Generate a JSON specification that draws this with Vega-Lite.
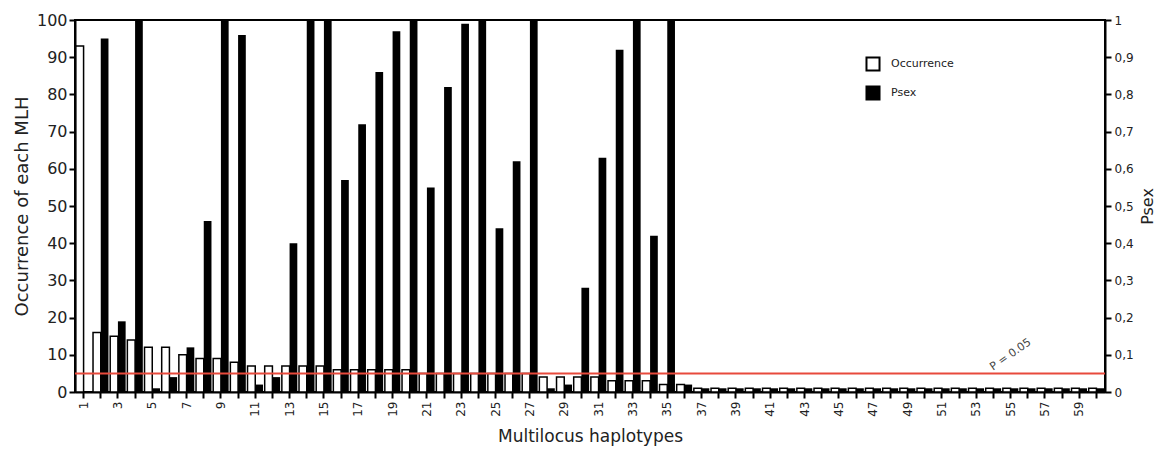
{
  "$schema": "https://vega.github.io/schema/vega-lite/v6.json",
  "width": 1030,
  "height": 372,
  "autosize": {"type": "none"},
  "padding": {"left": 75, "top": 20, "right": 67, "bottom": 69},
  "background": "white",
  "config": {
    "font": "DejaVu Sans",
    "view": {"stroke": "black", "strokeWidth": 2},
    "axis": {
      "domainColor": "black", "domainWidth": 2, "tickColor": "black", "tickWidth": 2, "tickSize": 6,
      "labelColor": "#222", "titleColor": "#222", "titleFontWeight": "normal", "grid": false,
      "labelFont": "DejaVu Sans", "titleFont": "DejaVu Sans"
    },
    "legend": {
      "orient": "none", "legendX": 790, "legendY": 36, "title": null,
      "symbolType": "square", "symbolSize": 170, "symbolStrokeColor": "black", "symbolStrokeWidth": 2,
      "labelFontSize": 11, "labelColor": "#222", "rowPadding": 7, "labelOffset": 10
    }
  },
  "data": {
    "values": [
      {"mlh": 1, "Occurrence": 93, "Psex": 0},
      {"mlh": 2, "Occurrence": 16, "Psex": 0.95},
      {"mlh": 3, "Occurrence": 15, "Psex": 0.19},
      {"mlh": 4, "Occurrence": 14, "Psex": 1.0},
      {"mlh": 5, "Occurrence": 12, "Psex": 0.01},
      {"mlh": 6, "Occurrence": 12, "Psex": 0.04},
      {"mlh": 7, "Occurrence": 10, "Psex": 0.12},
      {"mlh": 8, "Occurrence": 9, "Psex": 0.46},
      {"mlh": 9, "Occurrence": 9, "Psex": 1.0},
      {"mlh": 10, "Occurrence": 8, "Psex": 0.96},
      {"mlh": 11, "Occurrence": 7, "Psex": 0.02},
      {"mlh": 12, "Occurrence": 7, "Psex": 0.04},
      {"mlh": 13, "Occurrence": 7, "Psex": 0.40},
      {"mlh": 14, "Occurrence": 7, "Psex": 1.0},
      {"mlh": 15, "Occurrence": 7, "Psex": 1.0},
      {"mlh": 16, "Occurrence": 6, "Psex": 0.57},
      {"mlh": 17, "Occurrence": 6, "Psex": 0.72},
      {"mlh": 18, "Occurrence": 6, "Psex": 0.86},
      {"mlh": 19, "Occurrence": 6, "Psex": 0.97},
      {"mlh": 20, "Occurrence": 6, "Psex": 1.0},
      {"mlh": 21, "Occurrence": 5, "Psex": 0.55},
      {"mlh": 22, "Occurrence": 5, "Psex": 0.82},
      {"mlh": 23, "Occurrence": 5, "Psex": 0.99},
      {"mlh": 24, "Occurrence": 5, "Psex": 1.0},
      {"mlh": 25, "Occurrence": 5, "Psex": 0.44},
      {"mlh": 26, "Occurrence": 5, "Psex": 0.62},
      {"mlh": 27, "Occurrence": 5, "Psex": 1.0},
      {"mlh": 28, "Occurrence": 4, "Psex": 0.01},
      {"mlh": 29, "Occurrence": 4, "Psex": 0.02},
      {"mlh": 30, "Occurrence": 4, "Psex": 0.28},
      {"mlh": 31, "Occurrence": 4, "Psex": 0.63},
      {"mlh": 32, "Occurrence": 3, "Psex": 0.92},
      {"mlh": 33, "Occurrence": 3, "Psex": 1.0},
      {"mlh": 34, "Occurrence": 3, "Psex": 0.42},
      {"mlh": 35, "Occurrence": 2, "Psex": 1.0},
      {"mlh": 36, "Occurrence": 2, "Psex": 0.02},
      {"mlh": 37, "Occurrence": 1, "Psex": 0.01},
      {"mlh": 38, "Occurrence": 1, "Psex": 0.01},
      {"mlh": 39, "Occurrence": 1, "Psex": 0.01},
      {"mlh": 40, "Occurrence": 1, "Psex": 0.01},
      {"mlh": 41, "Occurrence": 1, "Psex": 0.01},
      {"mlh": 42, "Occurrence": 1, "Psex": 0.01},
      {"mlh": 43, "Occurrence": 1, "Psex": 0.01},
      {"mlh": 44, "Occurrence": 1, "Psex": 0.01},
      {"mlh": 45, "Occurrence": 1, "Psex": 0.01},
      {"mlh": 46, "Occurrence": 1, "Psex": 0.01},
      {"mlh": 47, "Occurrence": 1, "Psex": 0.01},
      {"mlh": 48, "Occurrence": 1, "Psex": 0.01},
      {"mlh": 49, "Occurrence": 1, "Psex": 0.01},
      {"mlh": 50, "Occurrence": 1, "Psex": 0.01},
      {"mlh": 51, "Occurrence": 1, "Psex": 0.01},
      {"mlh": 52, "Occurrence": 1, "Psex": 0.01},
      {"mlh": 53, "Occurrence": 1, "Psex": 0.01},
      {"mlh": 54, "Occurrence": 1, "Psex": 0.01},
      {"mlh": 55, "Occurrence": 1, "Psex": 0.01},
      {"mlh": 56, "Occurrence": 1, "Psex": 0.01},
      {"mlh": 57, "Occurrence": 1, "Psex": 0.01},
      {"mlh": 58, "Occurrence": 1, "Psex": 0.01},
      {"mlh": 59, "Occurrence": 1, "Psex": 0.01},
      {"mlh": 60, "Occurrence": 1, "Psex": 0.01}
    ]
  },
  "layer": [
    {
      "transform": [{"fold": ["Occurrence"], "as": ["series", "value"]}],
      "mark": {"type": "bar", "stroke": "black", "strokeWidth": 1.5},
      "encoding": {
        "x": {
          "field": "mlh", "type": "ordinal",
          "scale": {"paddingInner": 0.1, "paddingOuter": 0.05},
          "axis": {
            "title": "Multilocus haplotypes", "labelAngle": -90,
            "labelExpr": "datum.value % 2 == 1 ? datum.label : ''",
            "labelFontSize": 12, "labelPadding": 3, "titleFontSize": 17, "titlePadding": 12
          }
        },
        "xOffset": {"field": "series", "scale": {"domain": ["Occurrence", "Psex"]}},
        "y": {
          "field": "value", "type": "quantitative",
          "scale": {"domain": [0, 100]},
          "axis": {
            "title": "Occurrence of each MLH", "orient": "left",
            "values": [0, 10, 20, 30, 40, 50, 60, 70, 80, 90, 100],
            "labelFontSize": 16, "labelPadding": 2, "titleFontSize": 18, "titlePadding": 5
          }
        },
        "fill": {
          "field": "series", "type": "nominal",
          "scale": {"domain": ["Occurrence", "Psex"], "range": ["#ffffff", "#000000"]}
        }
      }
    },
    {
      "encoding": {
        "y": {
          "field": "value", "type": "quantitative",
          "scale": {"domain": [0, 1]},
          "axis": {
            "title": "Psex", "orient": "right", "titleAngle": -90, "titleBaseline": "top",
            "values": [0, 0.1, 0.2, 0.3, 0.4, 0.5, 0.6, 0.7, 0.8, 0.9, 1],
            "format": ".1~f",
            "labelExpr": "replace(datum.label, '.', ',')",
            "labelFontSize": 12, "labelPadding": 3, "titleFontSize": 16, "titlePadding": 6
          }
        }
      },
      "layer": [
        {
          "transform": [{"fold": ["Psex"], "as": ["series", "value"]}],
          "mark": {"type": "bar"},
          "encoding": {
            "x": {"field": "mlh", "type": "ordinal"},
            "xOffset": {"field": "series", "scale": {"domain": ["Occurrence", "Psex"]}},
            "fill": {"field": "series", "type": "nominal", "scale": {"domain": ["Occurrence", "Psex"], "range": ["#ffffff", "#000000"]}}
          }
        },
        {
          "data": {"values": [{"value": 0.05}]},
          "mark": {"type": "rule", "color": "#e84a3c", "strokeWidth": 2}
        },
        {
          "data": {"values": [{"mlh": 55, "value": 0.1, "label": "P = 0.05"}]},
          "mark": {"type": "text", "angle": -35, "fontSize": 11, "color": "#444", "dx": 0, "dy": 0},
          "encoding": {
            "x": {"field": "mlh", "type": "ordinal"},
            "text": {"field": "label"}
          }
        }
      ]
    }
  ],
  "resolve": {"scale": {"y": "independent"}}
}
